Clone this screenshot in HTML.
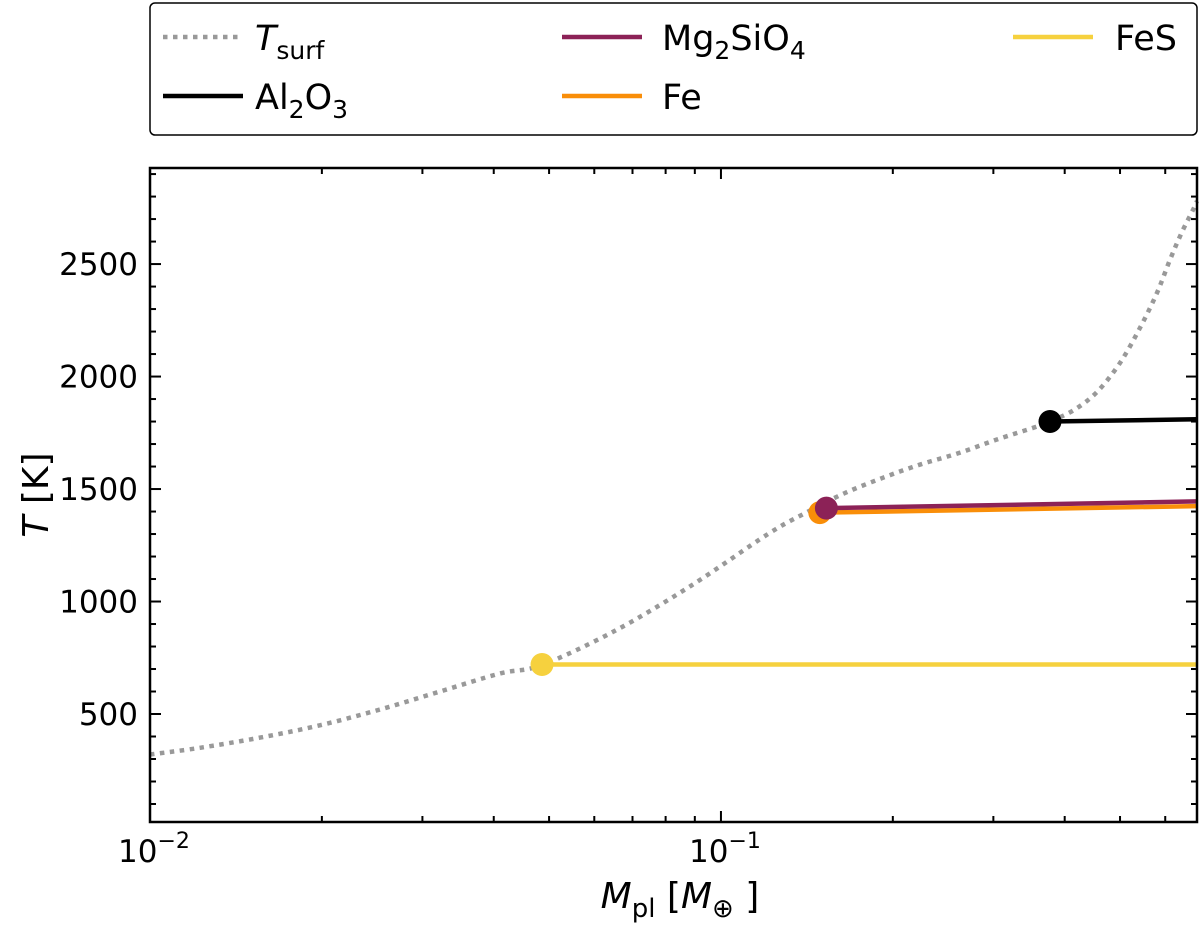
<!DOCTYPE html>
<html><head><meta charset="utf-8"><style>
body{margin:0;background:#fff}
svg text{font-family:"DejaVu Sans","Liberation Sans",sans-serif;fill:#000}
</style></head><body>
<svg id="chart" width="1200" height="926" viewBox="0 0 1200 926" xmlns="http://www.w3.org/2000/svg">
<rect x="0" y="0" width="1200" height="926" fill="#fff"/>
<g id="legend">
<rect x="150" y="3" width="1047" height="132" rx="5" fill="#fff" stroke="#000" stroke-width="1.5"/>
<g><line x1="163" y1="37" x2="243" y2="37" stroke="#999" stroke-width="4.5" stroke-dasharray="4.5,5.5"/><text x="255" y="50" font-size="35"><tspan font-style="italic">T</tspan><tspan font-size="25" dy="9">surf</tspan></text></g>
<g><line x1="163" y1="96" x2="243" y2="96" stroke="#000" stroke-width="4.5"/><text x="255" y="109" font-size="35">Al<tspan font-size="25" dy="9">2</tspan><tspan dy="-9">O</tspan><tspan font-size="25" dy="9">3</tspan></text></g>
<g><line x1="562" y1="37" x2="642" y2="37" stroke="#8c2257" stroke-width="4.5"/><text x="662" y="50" font-size="35">Mg<tspan font-size="25" dy="9">2</tspan><tspan dy="-9">SiO</tspan><tspan font-size="25" dy="9">4</tspan></text></g>
<g><line x1="562" y1="96" x2="642" y2="96" stroke="#f98e09" stroke-width="4.5"/><text x="662" y="109" font-size="35">Fe</text></g>
<g><line x1="1013" y1="37" x2="1093" y2="37" stroke="#f6d13e" stroke-width="4.5"/><text x="1115" y="50" font-size="35">FeS</text></g>
</g>
<g id="marks"></g>
<g id="axes"></g>
<text x="680" y="908" font-size="36" text-anchor="middle"><tspan font-style="italic">M</tspan><tspan font-size="26" dy="9">pl</tspan><tspan dy="-9"> [</tspan><tspan font-style="italic">M</tspan><tspan font-size="26" dy="9">⊕</tspan><tspan dy="-9"> ]</tspan></text>
<text transform="translate(48,495) rotate(-90)" font-size="36" text-anchor="middle"><tspan font-style="italic">T</tspan> [K]</text>
</svg>
<script>
const tsurfMass=[0.0100,0.01224,0.01559,0.01984,0.02528,0.03220,0.04101,0.04858,0.06523,0.08860,0.1209,0.1409,0.1642,0.1921,0.2240,0.2611,0.3043,0.3561,0.3770,0.4150,0.4555,0.4997,0.5418,0.5801,0.6113,0.6418,0.6709,0.6819];
const tsurfTemp=[320,350,395,450,520,600,680,718,870,1070,1300,1395,1480,1550,1610,1660,1720,1776,1800,1851,1931,2060,2216,2371,2518,2642,2740,2780];
const speciesNames=["FeS","Fe","Mg2SiO4","Al2O3"];
const speciesColors=["#f6d13e","#f98e09","#8c2257","#000000"];
const speciesStartMass=[0.0486,0.149,0.153,0.377];
const speciesStartTemp=[720,1395,1415,1800];
const speciesEndTemp=[720,1424,1445,1810];
const yTicks=[500,1000,1500,2000,2500];
const xMin=0.01,xMax=0.682,yMin=20,yMax=2927;
const L=150,R=1197,T=168,B=822;
const NS="http://www.w3.org/2000/svg";
function xs(m){return L+(Math.log10(m)-Math.log10(xMin))/(Math.log10(xMax)-Math.log10(xMin))*(R-L);}
function ys(t){return B-(t-yMin)/(yMax-yMin)*(B-T);}
function mk(tag,attrs,parent){const e=document.createElementNS(NS,tag);for(const k in attrs)e.setAttribute(k,attrs[k]);parent.appendChild(e);return e;}
const marks=document.getElementById('marks');
const axes=document.getElementById('axes');
// smooth path (Catmull-Rom)
const P=tsurfMass.map((m,i)=>[xs(m),ys(tsurfTemp[i])]);
let d='M'+P[0][0].toFixed(1)+','+P[0][1].toFixed(1);
for(let i=0;i<P.length-1;i++){const p0=P[Math.max(0,i-1)],p1=P[i],p2=P[i+1],p3=P[Math.min(P.length-1,i+2)];
 const c1=[p1[0]+(p2[0]-p0[0])/6,p1[1]+(p2[1]-p0[1])/6],c2=[p2[0]-(p3[0]-p1[0])/6,p2[1]-(p3[1]-p1[1])/6];
 d+=' C'+c1[0].toFixed(1)+','+c1[1].toFixed(1)+' '+c2[0].toFixed(1)+','+c2[1].toFixed(1)+' '+p2[0].toFixed(1)+','+p2[1].toFixed(1);}
const ts=mk('path',{d:d,fill:'none',stroke:'#999','stroke-width':4.5,'stroke-dasharray':'4.5,5.5'},marks);


[0,3,1,2].forEach(i=>{
 const g=mk('g',{},marks);
 
 
 const ln=mk('line',{x1:xs(speciesStartMass[i]),y1:ys(speciesStartTemp[i]),x2:R,y2:ys(speciesEndTemp[i]),stroke:speciesColors[i],'stroke-width':4.5},g);
 
 
 const c=mk('circle',{cx:xs(speciesStartMass[i]),cy:ys(speciesStartTemp[i]),r:11.5,fill:speciesColors[i]},g);
 
 
});
const fr=mk('rect',{x:L,y:T,width:R-L,height:B-T,fill:'none',stroke:'#000','stroke-width':2.5},axes);


for(let e=-2;e<=-1;e++){for(let k=1;k<=9;k++){const m=k*Math.pow(10,e);if(m<xMin||m>xMax)continue;const x=xs(m);const len=k===1?11:6;
 mk('line',{x1:x,y1:B,x2:x,y2:B-len,stroke:'#000','stroke-width':2},axes);
 mk('line',{x1:x,y1:T,x2:x,y2:T+len,stroke:'#000','stroke-width':2},axes);
 if(k===1){const t=mk('text',{x:x+4,y:B+40,'font-size':31,'text-anchor':'middle'},axes);
  
  
  t.innerHTML='10<tspan font-size="22" dy="-14">−'+(-e)+'</tspan>';}}}
for(let v=100;v<=2900;v+=100){const y=ys(v);if(y<T||y>B)continue;const major=v%500===0;const len=major?11:6;
 mk('line',{x1:L,y1:y,x2:L+len,y2:y,stroke:'#000','stroke-width':2},axes);
 mk('line',{x1:R,y1:y,x2:R-len,y2:y,stroke:'#000','stroke-width':2},axes);}
yTicks.forEach(v=>{const t=mk('text',{x:L-12,y:ys(v)+11,'font-size':31,'text-anchor':'end'},axes);
 
 
 t.textContent=v;});
</script>
</body></html>
